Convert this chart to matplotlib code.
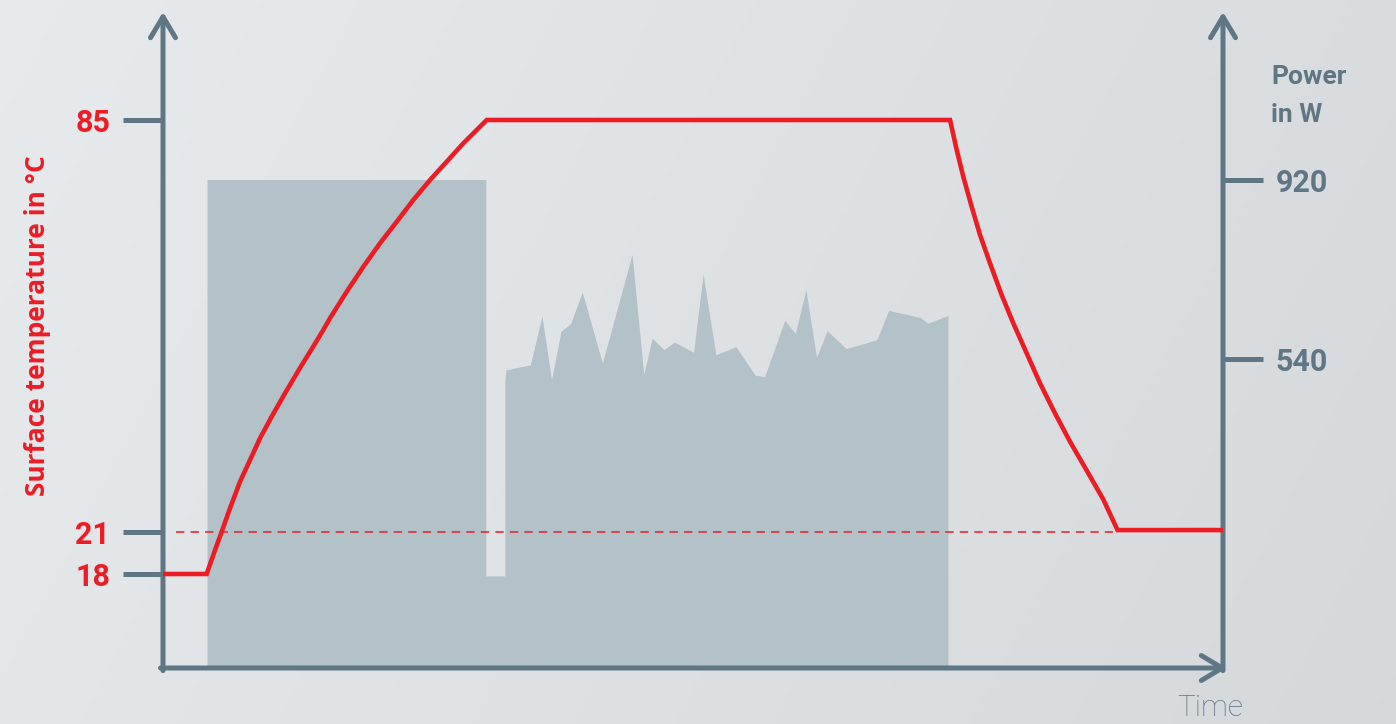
import numpy as np
import matplotlib
matplotlib.use('Agg')
import matplotlib.pyplot as plt

plt.rcParams['font.family'] = ['Roboto', 'DejaVu Sans']

# temperature curve (°C) over time (arbitrary units, 0..100)
temp_time = [0, 4.12, 4.91, 5.54, 6.32, 7.26, 8.21, 9.15, 10.25, 11.51, 12.92,
             14.03, 15.12, 15.75, 17.33, 18.90, 20.47, 22.05, 23.61, 25.19,
             26.76, 28.33, 30.54,
             74.25, 74.88, 75.50, 76.29, 77.08, 78.02, 79.12, 80.22, 81.48,
             82.74, 84.15, 85.57, 87.14, 88.71, 90.05, 100]
temp_values = [18, 18, 19.71, 21.05, 24.68, 28.81, 32.18, 35.56, 38.91, 42.55,
               46.47, 49.43, 52.38, 54.20, 58.33, 62.21, 65.85, 69.20, 72.57,
               75.68, 78.52, 81.38, 85,
               85, 80.34, 76.19, 71.53, 67.14, 62.74, 57.82, 53.42, 48.76,
               44.10, 39.44, 35.03, 30.56, 26.05, 21.3, 21.3]

# power profile (W)
power_time = [4.2, 4.2, 30.5, 30.5, 32.3, 32.3, 32.4, 34.7, 35.8, 36.7, 37.6, 38.5,
              39.6, 41.5, 44.3, 45.4, 46.2, 47.3, 48.3, 50.1, 51.0, 52.2, 54.1,
              55.9, 56.8, 58.7, 59.7, 60.7, 61.7, 62.7, 64.5, 67.4, 68.5, 71.5,
              72.2, 74.1, 74.1]
power_values = [0, 920, 920, 160, 160, 500, 520, 529, 630, 503, 598, 614,
                681, 532, 761, 512, 583, 559, 575, 553, 719, 548, 565,
                511, 508, 621, 593, 686, 542, 599, 561, 580, 642, 627,
                615, 631, 0]

temp_ticks = [18, 21, 85]
power_ticks = [540, 920]
ref_temp = 21
ref_span = [1.2, 89.6]

# colours
red = '#ec1c24'
slate = '#5f7784'
fill_grey = '#b3c1c8'

# schematic (non-linear) value axes: value -> height in px from figure bottom
temp_anchor = [-50, 18, 21, 85, 200]
temp_height = [-802, 150, 192, 604, 1344.3]
power_anchor = [-2000, 0, 540, 920, 5000]
power_height = [-1088.4, 56, 365, 544, 2466]


def temp_fwd(v):
    return np.interp(v, temp_anchor, temp_height)


def temp_inv(h):
    return np.interp(h, temp_height, temp_anchor)


def power_fwd(v):
    return np.interp(v, power_anchor, power_height)


def power_inv(h):
    return np.interp(h, power_height, power_anchor)


fig = plt.figure(figsize=(13.96, 7.24), dpi=100)

# soft background gradient
bg = fig.add_axes([0, 0, 1, 1], zorder=-10)
gx, gy = np.meshgrid(np.linspace(0, 1, 300), np.linspace(0, 1, 160))
g = 0.915 - 0.055 * gx - 0.015 * gy
bg.imshow(np.dstack([g - 0.01, g + 0.005, g + 0.015]).clip(0, 1), aspect='auto',
          extent=[0, 1, 0, 1], origin='upper')
bg.axis('off')

rect = [163 / 1396, 56 / 724, 1060 / 1396, 656 / 724]
ax = fig.add_axes(rect)        # power (drawn below)
ax2 = ax.twinx()               # temperature (drawn on top)

ax.set_yscale('function', functions=(power_fwd, power_inv))
ax2.set_yscale('function', functions=(temp_fwd, temp_inv))
ax.set_xlim(0, 100)
ax.set_ylim(0, power_inv(712))
ax2.set_ylim(temp_inv(56), temp_inv(712))

ax.fill(power_time, power_values, color=fill_grey, lw=0)

ax2.plot(ref_span, [ref_temp, ref_temp], color=red, lw=1.1, dashes=(5.5, 4))
ax2.plot(temp_time, temp_values, color=red, lw=3.3,
         solid_joinstyle='miter', solid_capstyle='butt')

for a in (ax, ax2):
    a.patch.set_alpha(0)
    for s in a.spines.values():
        s.set_visible(False)
    a.set_xticks([])

ax.yaxis.tick_right()
ax.set_yticks(power_ticks)
ax.tick_params(axis='y', direction='out', length=29, width=3.6, color=slate,
               labelcolor=slate, labelsize=22, pad=9)
ax2.yaxis.tick_left()
ax2.set_yticks(temp_ticks)
ax2.tick_params(axis='y', direction='out', length=29, width=3.6, color=slate,
                labelcolor=red, labelsize=22, pad=9)
for lab in ax.get_yticklabels() + ax2.get_yticklabels():
    lab.set_fontweight('bold')

# axis lines with open arrowheads
arrow = dict(arrowstyle='->, head_length=0.5, head_width=0.3', lw=3.6,
             color=slate, mutation_scale=30, shrinkA=0, shrinkB=0)
ax.annotate('', xy=(0, 1), xytext=(0, -0.004), xycoords='axes fraction',
            arrowprops=arrow, annotation_clip=False)
ax.annotate('', xy=(1.0038, 0), xytext=(-0.0024, 0), xycoords='axes fraction',
            arrowprops=arrow, annotation_clip=False)
ax.annotate('', xy=(1, 1), xytext=(1, -0.004), xycoords='axes fraction',
            arrowprops=arrow, annotation_clip=False)

fig.text(38 / 1396, 1 - 326 / 724, 'Surface temperature in °C', rotation=90,
         ha='center', va='center', fontsize=19, fontweight='bold', color=red,
         family=['Open Sans', 'DejaVu Sans'])
fig.text(1271 / 1396, 1 - 84 / 724, 'Power', ha='left', va='baseline',
         fontsize=19, fontweight='bold', color=slate)
fig.text(1271 / 1396, 1 - 122 / 724, 'in W', ha='left', va='baseline',
         fontsize=19, fontweight='bold', color=slate)
fig.text(1177 / 1396, 1 - 694 / 724, 'Time', ha='left', va='top',
         fontsize=21.5, fontweight='light', color=slate)

fig.savefig('out.png', dpi=100)
